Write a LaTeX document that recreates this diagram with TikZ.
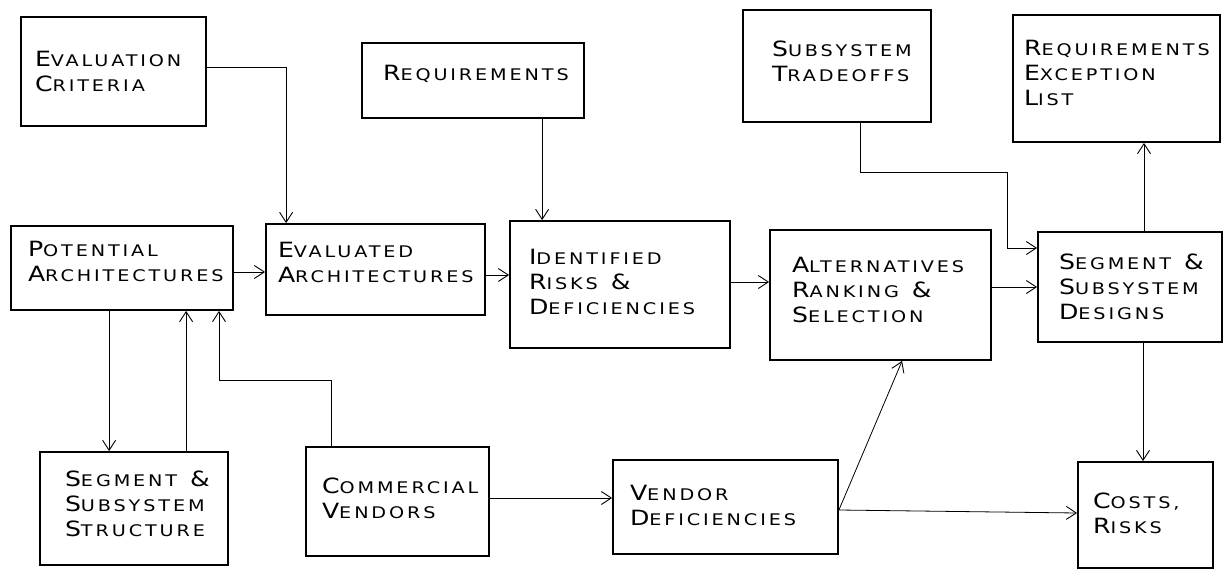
\documentclass[tikz,border=0pt]{standalone}
\usepackage{fontspec}
\usetikzlibrary{arrows.meta,calc}
\newfontfamily\diagfont[LetterSpace=18,FakeStretch=1.2]{DejaVu Sans}
% raised initial letter for the small-caps lettering
\newcommand\Ini[1]{{\fontsize{21pt}{25pt}\selectfont #1}}
% wide unbreakable gap before an ampersand
\newcommand\andgap{\hspace*{13pt}\Ini{\&}}
% push the lettering upwards inside its box
\newcommand\lift[1]{\rule[-#1pt]{0pt}{0pt}}
\tikzset{
  box/.style={draw, line width=1.8pt, rectangle, align=left,
    font=\diagfont\fontsize{16pt}{25pt}\selectfont},
  conn/.style={line width=0.8pt, -{Straight Barb[length=10pt,width=13pt,line width=0.9pt]}},
}
% name, x, y, width, height, left offset, text width, text
\newcommand\diagbox[8]{%
  \node[box, minimum width=#4pt, minimum height=#5pt, inner xsep=#6pt,
        inner ysep=0pt, text width=#7pt] (#1) at (#2,#3) {#8};}
\begin{document}
\begin{tikzpicture}[x=1pt,y=-1pt]
\useasboundingbox (0,0) rectangle (1226,573);

\diagbox{ec}{113.5}{71.5}{185}{109}{14}{157}{\Ini{E}VALUATION\\\Ini{C}RITERIA}
\diagbox{req}{473}{80.5}{222}{75}{21}{180}{\Ini{R}EQUIREMENTS\lift{15}}
\diagbox{st}{837}{66}{188}{112}{29}{130}{\Ini{S}UBSYSTEM\\\Ini{T}RADEOFFS\lift{9}}
\diagbox{rel}{1116.5}{78.5}{207}{127}{11}{185}{\Ini{R}EQUIREMENTS\\\Ini{E}XCEPTION\\\Ini{L}IST\lift{11}}
\diagbox{pa}{122}{268}{222}{84}{17}{188}{\Ini{P}OTENTIAL\\\Ini{A}RCHITECTURES\lift{14}}
\diagbox{ea}{375.5}{269.5}{219}{91}{12}{195}{\Ini{E}VALUATED\\\Ini{A}RCHITECTURES\lift{14}}
\diagbox{ir}{620}{284.5}{220}{127}{19}{182}{\Ini{I}DENTIFIED\\\Ini{R}ISKS\andgap\\\Ini{D}EFICIENCIES\lift{6}}
\diagbox{ar}{880.5}{295}{221}{130}{22}{177}{\Ini{A}LTERNATIVES\\\Ini{R}ANKING\andgap\\\Ini{S}ELECTION\lift{10}}
\diagbox{ssd}{1130}{287}{184}{110}{21}{142}{\Ini{S}EGMENT\andgap\\\Ini{S}UBSYSTEM\\\Ini{D}ESIGNS}
\diagbox{sss}{134}{508.5}{188}{113}{25}{138}{\Ini{S}EGMENT\andgap\\\Ini{S}UBSYSTEM\\\Ini{S}TRUCTURE\lift{9}}
\diagbox{cv}{397.5}{501.5}{183}{109}{16}{151}{\Ini{C}OMMERCIAL\\\Ini{V}ENDORS\lift{7}}
\diagbox{vd}{725.5}{507}{225}{94}{17}{191}{\Ini{V}ENDOR\\\Ini{D}EFICIENCIES\lift{4}}
\diagbox{cr}{1145.5}{515}{135}{106}{15}{105}{\Ini{C}OSTS,\\\Ini{R}ISKS\lift{3}}

% flow between the boxes
\draw[conn] ([yshift=4.5pt]ec.east) -| ([xshift=21pt]ea.north west);
\draw[conn] ([xshift=181pt]req.south west) -- ([xshift=33pt]ir.north west);
\draw[conn] ([yshift=-4pt]pa.east) -- ([yshift=-4pt]pa.east -| ea.west);
\draw[conn] ([yshift=-5.5pt]ea.east) -- ([yshift=-5.5pt]ea.east -| ir.west);
\draw[conn] ([yshift=2.5pt]ir.east) -- ([yshift=2.5pt]ir.east -| ar.west);
\draw[conn] ([yshift=8pt]ar.east) -- ([yshift=8pt]ar.east -| ssd.west);
\draw[conn] ([xshift=118pt]st.south west) |- (1007,172) |- ([yshift=39pt]ssd.west);
\draw[conn] ([xshift=14pt]ssd.north) -- ([xshift=14pt]ssd.north |- rel.south);
\draw[conn] ([xshift=13pt]ssd.south) -- ([xshift=13pt]ssd.south |- cr.north);
\draw[conn] ([xshift=99pt]pa.south west) -- ([xshift=99pt]pa.south west |- sss.north);
\draw[conn] ([xshift=147pt]sss.north west) -- ([xshift=147pt]sss.north west |- pa.south);
\draw[conn] ([xshift=26pt]cv.north west) |- (219,380) -- (pa.south -| 219,380);
\draw[conn] ([yshift=3.5pt]cv.east) -- ([yshift=3.5pt]cv.east -| vd.west);
\draw[conn] ([yshift=-3pt]vd.east) -- ([xshift=133pt]ar.south west);
\draw[conn] ([yshift=-3pt]vd.east) -- ([yshift=2pt]cr.west);
\end{tikzpicture}
\end{document}
